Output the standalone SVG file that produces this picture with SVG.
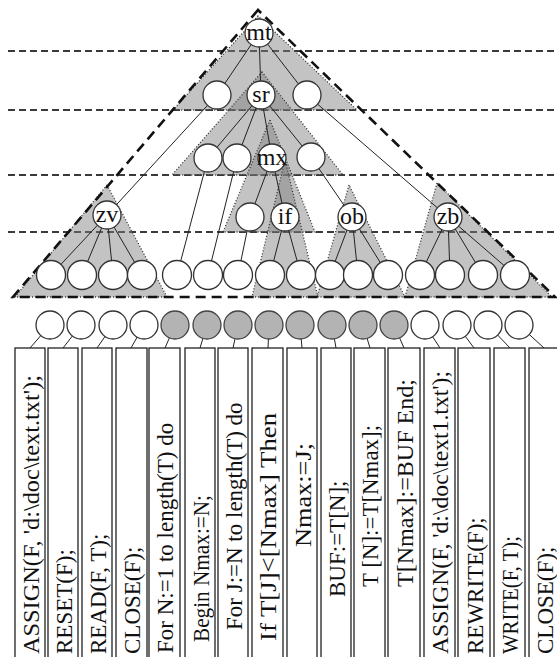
<svg xmlns="http://www.w3.org/2000/svg" width="557" height="657" viewBox="0 0 557 657">
<style>
.hl{stroke:#3a3a3a;stroke-width:2.2;stroke-dasharray:7 4;fill:none}
.big{stroke:#111;stroke-width:2.6;stroke-dasharray:10 6;fill:none}
.tri{fill:#808080;fill-opacity:0.47;stroke:#333;stroke-width:1.3;stroke-dasharray:1 2}
.e{stroke:#222;stroke-width:1;fill:none}
.n{fill:#fff;stroke:#333;stroke-width:1.3}
.g{fill:#b3b3b3;stroke:#444;stroke-width:1.3}
.b{fill:#fff;stroke:#222;stroke-width:1.3}
.lb{font-family:"Liberation Serif","Times New Roman",serif;font-size:24px;fill:#111;text-anchor:middle}
.t{font-family:"Liberation Serif","Times New Roman",serif;font-size:23px;fill:#111}
</style>
<rect width="557" height="657" fill="#fff"/>
<g id="levels">
<line class="hl" x1="8" y1="51" x2="557" y2="51"/>
<line class="hl" x1="8" y1="110" x2="557" y2="110"/>
<line class="hl" x1="8" y1="175" x2="557" y2="175"/>
<line class="hl" x1="8" y1="232" x2="557" y2="232"/>
</g>
<g id="subtrees">
<polygon class="tri" points="258,16 173,110 357,110"/>
<polygon class="tri" points="262,72 172,175 343,175"/>
<polygon class="tri" points="270,120 223,232 315,232"/>
<polygon class="tri" points="285,160 252,297 318,297"/>
<polygon class="tri" points="107,185 15,297 167,297"/>
<polygon class="tri" points="349,185 317,297 405,297"/>
<polygon class="tri" points="437,183 405,297 552,297"/>
</g>
<g id="outline">
<polygon class="big" points="258,10 13,297 555,297"/>
</g>
<g id="connectors">
<line class="e" x1="259" y1="33" x2="217" y2="95"/>
<line class="e" x1="259" y1="33" x2="261" y2="95"/>
<line class="e" x1="259" y1="33" x2="307" y2="95"/>
<line class="e" x1="217" y1="95" x2="107" y2="215"/>
<line class="e" x1="307" y1="95" x2="448" y2="217"/>
<line class="e" x1="261" y1="95" x2="208" y2="158"/>
<line class="e" x1="261" y1="95" x2="237" y2="158"/>
<line class="e" x1="261" y1="95" x2="272" y2="158"/>
<line class="e" x1="261" y1="95" x2="311" y2="157"/>
<line class="e" x1="208" y1="158" x2="177" y2="275"/>
<line class="e" x1="237" y1="158" x2="208" y2="275"/>
<line class="e" x1="311" y1="157" x2="352" y2="217"/>
<line class="e" x1="272" y1="158" x2="250" y2="217"/>
<line class="e" x1="272" y1="158" x2="285" y2="217"/>
<line class="e" x1="250" y1="217" x2="238" y2="275"/>
<line class="e" x1="285" y1="217" x2="270" y2="275"/>
<line class="e" x1="285" y1="217" x2="301" y2="275"/>
<line class="e" x1="107" y1="215" x2="51" y2="275"/>
<line class="e" x1="107" y1="215" x2="82" y2="275"/>
<line class="e" x1="107" y1="215" x2="113" y2="275"/>
<line class="e" x1="107" y1="215" x2="142" y2="275"/>
<line class="e" x1="352" y1="217" x2="330" y2="275"/>
<line class="e" x1="352" y1="217" x2="358" y2="275"/>
<line class="e" x1="352" y1="217" x2="388" y2="275"/>
<line class="e" x1="448" y1="217" x2="420" y2="275"/>
<line class="e" x1="448" y1="217" x2="450" y2="275"/>
<line class="e" x1="448" y1="217" x2="483" y2="275"/>
<line class="e" x1="448" y1="217" x2="515" y2="275"/>
<line class="e" x1="50" y1="325" x2="30" y2="348"/>
<line class="e" x1="81" y1="325" x2="63" y2="348"/>
<line class="e" x1="113" y1="325" x2="97" y2="348"/>
<line class="e" x1="144" y1="325" x2="131" y2="348"/>
<line class="e" x1="175" y1="325" x2="165" y2="348"/>
<line class="e" x1="207" y1="325" x2="200" y2="348"/>
<line class="e" x1="238" y1="325" x2="233" y2="348"/>
<line class="e" x1="269" y1="325" x2="268" y2="348"/>
<line class="e" x1="300" y1="325" x2="302" y2="348"/>
<line class="e" x1="332" y1="325" x2="336" y2="348"/>
<line class="e" x1="363" y1="325" x2="370" y2="348"/>
<line class="e" x1="394" y1="325" x2="404" y2="348"/>
<line class="e" x1="425" y1="325" x2="440" y2="348"/>
<line class="e" x1="457" y1="325" x2="474" y2="348"/>
<line class="e" x1="488" y1="325" x2="510" y2="348"/>
<line class="e" x1="519" y1="325" x2="544" y2="348"/>
</g>
<g id="tree-nodes">
<g id="mt"><circle class="n" cx="259" cy="33" r="14"/><text class="lb" x="259" y="40">mt</text></g>
<g id="n2a"><circle class="n" cx="217" cy="95" r="14"/></g>
<g id="sr"><circle class="n" cx="261" cy="95" r="14"/><text class="lb" x="261" y="102">sr</text></g>
<g id="n2c"><circle class="n" cx="307" cy="95" r="14"/></g>
<g id="n3a"><circle class="n" cx="208" cy="158" r="14"/></g>
<g id="n3b"><circle class="n" cx="237" cy="158" r="14"/></g>
<g id="mx"><circle class="n" cx="272" cy="158" r="14"/><text class="lb" x="272" y="165">mx</text></g>
<g id="n3d"><circle class="n" cx="311" cy="157" r="14"/></g>
<g id="zv"><circle class="n" cx="107" cy="215" r="14"/><text class="lb" x="107" y="222">zv</text></g>
<g id="n4b"><circle class="n" cx="250" cy="217" r="14"/></g>
<g id="if"><circle class="n" cx="285" cy="217" r="14"/><text class="lb" x="285" y="224">if</text></g>
<g id="ob"><circle class="n" cx="352" cy="217" r="14"/><text class="lb" x="352" y="224">ob</text></g>
<g id="zb"><circle class="n" cx="448" cy="217" r="14"/><text class="lb" x="448" y="224">zb</text></g>
</g>
<g id="leaves">
<circle class="n" cx="51" cy="275" r="14.5"/>
<circle class="n" cx="82" cy="275" r="14.5"/>
<circle class="n" cx="113" cy="275" r="14.5"/>
<circle class="n" cx="142" cy="275" r="14.5"/>
<circle class="n" cx="177" cy="275" r="14.5"/>
<circle class="n" cx="208" cy="275" r="14.5"/>
<circle class="n" cx="238" cy="275" r="14.5"/>
<circle class="n" cx="270" cy="275" r="14.5"/>
<circle class="n" cx="301" cy="275" r="14.5"/>
<circle class="n" cx="330" cy="275" r="14.5"/>
<circle class="n" cx="358" cy="275" r="14.5"/>
<circle class="n" cx="388" cy="275" r="14.5"/>
<circle class="n" cx="420" cy="275" r="14.5"/>
<circle class="n" cx="450" cy="275" r="14.5"/>
<circle class="n" cx="483" cy="275" r="14.5"/>
<circle class="n" cx="515" cy="275" r="14.5"/>
</g>
<g id="statement-nodes">
<circle class="n" cx="50" cy="325" r="14"/>
<circle class="n" cx="81" cy="325" r="14"/>
<circle class="n" cx="113" cy="325" r="14"/>
<circle class="n" cx="144" cy="325" r="14"/>
<circle class="g" cx="175" cy="325" r="14"/>
<circle class="g" cx="207" cy="325" r="14"/>
<circle class="g" cx="238" cy="325" r="14"/>
<circle class="g" cx="269" cy="325" r="14"/>
<circle class="g" cx="300" cy="325" r="14"/>
<circle class="g" cx="332" cy="325" r="14"/>
<circle class="g" cx="363" cy="325" r="14"/>
<circle class="g" cx="394" cy="325" r="14"/>
<circle class="n" cx="425" cy="325" r="14"/>
<circle class="n" cx="457" cy="325" r="14"/>
<circle class="n" cx="488" cy="325" r="14"/>
<circle class="n" cx="519" cy="325" r="14"/>
</g>
<g id="statements">
<g id="s1"><rect class="b" x="15" y="348" width="30" height="320"/><text class="t" x="39" y="654" transform="rotate(-90 39 654)" textLength="279" lengthAdjust="spacingAndGlyphs">ASSIGN(F, 'd:\doc\text.txt');</text></g>
<g id="s2"><rect class="b" x="48" y="348" width="30" height="320"/><text class="t" x="72" y="654" transform="rotate(-90 72 654)">RESET(F);</text></g>
<g id="s3"><rect class="b" x="82" y="348" width="30" height="320"/><text class="t" x="106" y="654" transform="rotate(-90 106 654)">READ(F, T);</text></g>
<g id="s4"><rect class="b" x="116" y="348" width="31" height="320"/><text class="t" x="140" y="654" transform="rotate(-90 140 654)">CLOSE(F);</text></g>
<g id="s5"><rect class="b" x="149" y="348" width="31" height="320"/><text class="t" x="173" y="653" transform="rotate(-90 173 653)">For N:=1 to length(T) do</text></g>
<g id="s6"><rect class="b" x="185" y="348" width="30" height="320"/><text class="t" x="209" y="642" transform="rotate(-90 209 642)" textLength="147" lengthAdjust="spacingAndGlyphs">Begin Nmax:=N;</text></g>
<g id="s7"><rect class="b" x="218" y="348" width="30" height="320"/><text class="t" x="242" y="630" transform="rotate(-90 242 630)">For J:=N to length(T) do</text></g>
<g id="s8"><rect class="b" x="252" y="348" width="31" height="320"/><text class="t" x="276" y="641" transform="rotate(-90 276 641)" textLength="228" lengthAdjust="spacingAndGlyphs">If T[J]&lt;[Nmax] Then</text></g>
<g id="s9"><rect class="b" x="287" y="348" width="30" height="320"/><text class="t" x="311" y="547" transform="rotate(-90 311 547)" textLength="104" lengthAdjust="spacingAndGlyphs">Nmax:=J;</text></g>
<g id="s10"><rect class="b" x="321" y="348" width="30" height="320"/><text class="t" x="345" y="597" transform="rotate(-90 345 597)">BUF:=T[N];</text></g>
<g id="s11"><rect class="b" x="354" y="348" width="31" height="320"/><text class="t" x="378" y="587" transform="rotate(-90 378 587)" textLength="162" lengthAdjust="spacingAndGlyphs">T [N]:=T[Nmax];</text></g>
<g id="s12"><rect class="b" x="388" y="348" width="32" height="320"/><text class="t" x="413" y="587" transform="rotate(-90 413 587)" textLength="208" lengthAdjust="spacingAndGlyphs">T[Nmax]:=BUF End;</text></g>
<g id="s13"><rect class="b" x="424" y="348" width="31" height="320"/><text class="t" x="448" y="654" transform="rotate(-90 448 654)" textLength="283" lengthAdjust="spacingAndGlyphs">ASSIGN(F, 'd:\doc\text1.txt');</text></g>
<g id="s14"><rect class="b" x="458" y="348" width="32" height="320"/><text class="t" x="483" y="654" transform="rotate(-90 483 654)">REWRITE(F);</text></g>
<g id="s15"><rect class="b" x="494" y="348" width="31" height="320"/><text class="t" x="518" y="654" transform="rotate(-90 518 654)" textLength="118" lengthAdjust="spacingAndGlyphs">WRITE(F, T);</text></g>
<g id="s16"><rect class="b" x="529" y="348" width="35" height="320"/><text class="t" x="553" y="654" transform="rotate(-90 553 654)">CLOSE(F);</text></g>
</g>
</svg>
